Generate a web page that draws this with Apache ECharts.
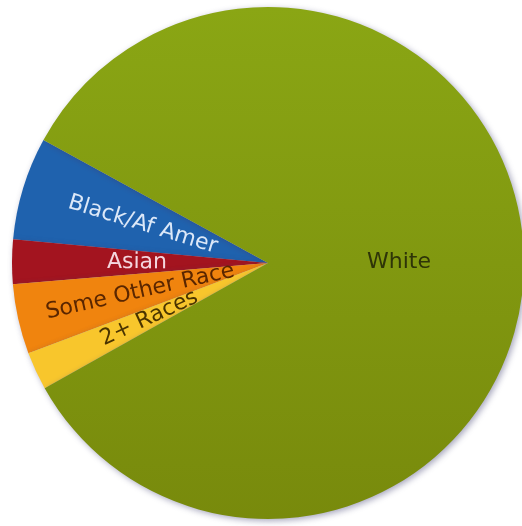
<!DOCTYPE html>
<html>
<head>
<meta charset="utf-8">
<script src="https://cdn.jsdelivr.net/npm/echarts@6/dist/echarts.min.js"></script>
<style>
  html, body { margin: 0; padding: 0; background: #fff; }
  #main { width: 522px; height: 526px; }
</style>
</head>
<body>
<div id="main"></div>
<script>
// population share by race (%)
const categories = ['Black/Af Amer', 'Asian', 'Some Other Race', '2+ Races', 'White'];
const shares = [6.5, 2.8, 4.4, 2.4, 83.9];
const sliceColors = ['#1f62ae', '#a3141f', '#f0840e', '#f8c62c', '#84a012'];
const labelColors = ['#dce8f8', '#f4d6de', '#5a2600', '#4a3400', '#2e3408'];

const chart = echarts.init(document.getElementById('main'));

const data = categories.map((name, i) => ({
  name,
  value: shares[i],
  itemStyle: {
    color: name === 'White'
      ? new echarts.graphic.LinearGradient(0, 0, 0, 1, [
          { offset: 0, color: '#8aa614' },
          { offset: 1, color: '#788a0c' }
        ])
      : sliceColors[i]
  },
  label: {
    color: labelColors[i],
    rotate: name === 'White' ? 0 : 'radial'
  }
}));

chart.setOption({
  animation: false,
  series: [{
    type: 'pie',
    center: [268, 263],
    radius: [0, 256],
    startAngle: 151.3,
    clockwise: false,
    avoidLabelOverlap: false,
    data,
    itemStyle: {
      borderWidth: 0,
      shadowBlur: 6,
      shadowOffsetX: 2,
      shadowOffsetY: 2,
      shadowColor: 'rgba(60,60,110,0.45)'
    },
    label: {
      show: true,
      position: 'inside',
      fontFamily: 'DejaVu Sans, sans-serif',
      fontSize: 22
    },
    labelLayout: { hideOverlap: false },
    labelLine: { show: false }
  }]
});
</script>
</body>
</html>
